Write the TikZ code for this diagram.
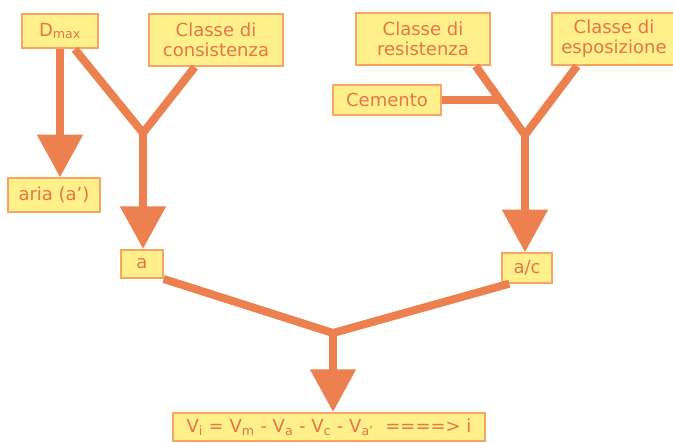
\documentclass[tikz,border=0pt]{standalone}
\usepackage{fontspec}
\setmainfont{DejaVu Sans}
\usetikzlibrary{calc}
\usetikzlibrary{arrows.meta}

\definecolor{linecol}{RGB}{236,128,78}
\definecolor{boxfill}{RGB}{255,240,140}
\definecolor{boxline}{RGB}{248,165,100}
\definecolor{textcol}{RGB}{230,118,70}

\begin{document}
\begin{tikzpicture}[
    x=0.75pt, y=-0.75pt,
    boxnode/.style={rectangle, draw=boxline, line width=1.5pt, fill=boxfill, text=textcol,
      inner sep=1pt, align=center, font=\fontsize{13.5}{15}\selectfont},
    linkline/.style={draw=linecol, line width=6pt, line join=round},
    arrowline/.style={linkline, -{Triangle[width=33pt,length=32pt]}}
    ]
  \useasboundingbox (0,0) rectangle (673,442);
  \fill[white] (0,0) rectangle (673,442);
  % nodes
  \node[boxnode, minimum width=57pt, minimum height=26pt] (dmax) at (60,31) {D\textsubscript{max}};
  \node[boxnode, minimum width=100pt, minimum height=39pt] (cons) at (216,40) {Classe di\\consistenza};
  \node[boxnode, minimum width=100pt, minimum height=39pt] (res) at (423,39) {Classe di\\resistenza};
  \node[boxnode, minimum width=93pt, minimum height=39pt] (esp) at (614,39) {Classe di\\esposizione};
  \node[boxnode, minimum width=81pt, minimum height=22pt] (cem) at (387,100) {Cemento};
  \node[boxnode, minimum width=69pt, minimum height=25pt] (aria) at (54,195) {aria (a')};
  \node[boxnode, minimum width=31pt, minimum height=21pt] (a) at (142,264) {a};
  \node[boxnode, minimum width=37pt, minimum height=22pt] (ac) at (527,268) {a/c};
  \node[boxnode, minimum width=234pt, minimum height=21pt] (vi) at (329,427)
    {V\textsubscript{i} = V\textsubscript{m} - V\textsubscript{a} - V\textsubscript{c} - V\textsubscript{a'}\ \ ====> i};
  % junctions
  \coordinate (jl) at (143,133);
  \coordinate (jr) at (525,135);
  \coordinate (jb) at (333,333);
  \coordinate (resfoot) at ($(res.south east)+(-15,0)$);
  \coordinate (espfoot) at ($(esp.south)+(-37,0)$);
  \coordinate (cj) at ($(resfoot)!0.5!(jr)$);
  % arrows
  \draw[arrowline] (dmax.south) -- (dmax.south |- aria.north);
  \draw[linkline] (dmax) -- (jl) -- (cons);
  \draw[arrowline] (jl) -- (jl |- a.north);
  \draw[linkline] (resfoot) -- (jr) -- (espfoot);
  \draw[linkline] (cem) -- (cem -| cj);
  \draw[arrowline] (jr) -- (jr |- ac.north);
  \draw[linkline] (a.south east) -- (jb) -- ($(ac.south west)+(8,0)$);
  \draw[arrowline] (jb) -- (jb |- vi.north);
\end{tikzpicture}
\end{document}
